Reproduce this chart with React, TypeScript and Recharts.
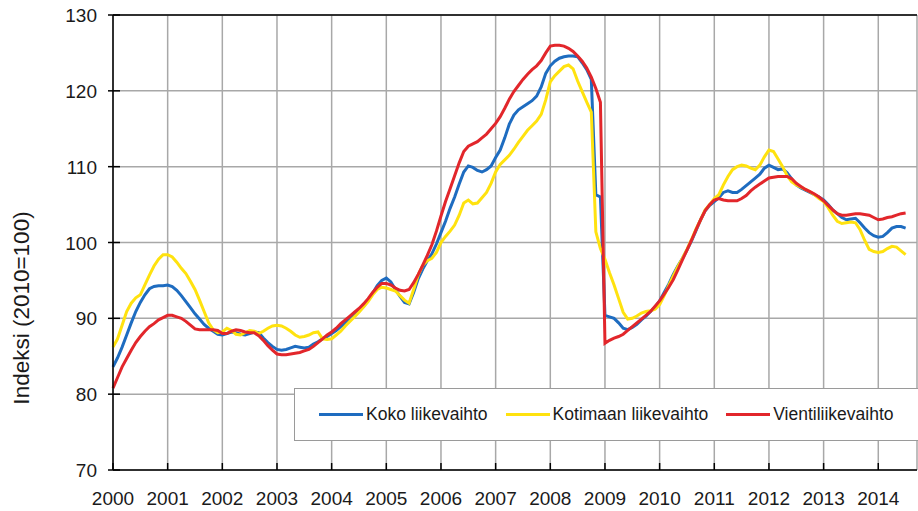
import { LineChart, Line, XAxis, YAxis, CartesianGrid, ReferenceLine } from 'recharts'

const yearLabels = ['2000', '2001', '2002', '2003', '2004', '2005', '2006', '2007', '2008', '2009', '2010', '2011', '2012', '2013', '2014']
const yTicks = [70, 80, 90, 100, 110, 120, 130]

// monthly trend values, Jan 2000 .. Jul 2014
const koko = [
  83.6, 84.8, 86.2, 87.8, 89.4, 90.9, 92.1, 93.1, 93.9, 94.2, 94.3, 94.3,
  94.4, 94.2, 93.7, 93.0, 92.2, 91.4, 90.6, 89.9, 89.2, 88.7, 88.3, 87.9,
  87.8, 88.0, 88.2, 88.1, 87.9, 87.8, 88.0, 88.2, 88.1, 87.4, 86.8, 86.3,
  85.9, 85.8, 85.9, 86.1, 86.3, 86.2, 86.1, 86.2, 86.6, 86.9, 87.3, 87.6,
  88.0, 88.4, 88.9, 89.4, 90.0, 90.5, 91.0, 91.6, 92.4, 93.3, 94.3, 95.0,
  95.3, 94.8, 93.8, 92.9, 92.1, 91.9, 93.4, 95.2, 96.5, 97.6, 98.5, 99.8,
  101.3, 102.8, 104.5, 106.0, 107.7, 109.3, 110.1, 109.9, 109.5, 109.3, 109.6, 110.1,
  111.2, 112.2, 113.8, 115.6, 116.8, 117.5, 117.9, 118.3, 118.7, 119.3, 120.5, 122.3,
  123.3, 123.9, 124.3, 124.5, 124.6, 124.6, 124.5, 123.7, 122.8, 121.5, 106.3, 106.0,
  90.4, 90.2, 90.0, 89.4, 88.7, 88.5, 88.8, 89.2, 89.8, 90.3, 90.9, 91.5,
  92.3, 93.4, 94.5, 95.8, 96.9, 97.9, 99.0, 100.2, 101.6, 103.0, 104.2, 104.9,
  105.4, 105.9, 106.6, 106.8, 106.6, 106.6, 107.0, 107.5, 108.0, 108.5, 109.0, 109.8,
  110.2, 109.9, 109.6, 109.7, 109.2, 108.4, 107.6, 107.2, 106.9, 106.6, 106.3, 106.0,
  105.6, 105.0, 104.3, 103.8, 103.3, 103.0, 103.1, 103.2, 102.6, 101.9, 101.3, 100.9,
  100.7, 100.8, 101.3, 101.9, 102.1, 102.1, 101.9,
]

const kotimaan = [
  86.2, 87.3, 89.1, 90.9, 92.0, 92.7, 93.1, 94.4, 95.7, 96.9, 97.8, 98.4,
  98.4, 98.1, 97.4, 96.6, 95.9, 94.9, 93.8, 92.4, 90.9, 89.4, 88.5, 88.1,
  88.2, 88.7, 88.4, 87.9, 87.8, 88.1, 88.4, 88.3, 88.0, 88.3, 88.7, 89.0,
  89.1, 89.0, 88.7, 88.3, 87.8, 87.5, 87.6, 87.8, 88.1, 88.2, 87.3, 87.2,
  87.3, 87.8, 88.3, 89.0, 89.6, 90.2, 90.8, 91.5, 92.2, 93.1, 93.8, 94.1,
  94.0, 93.8, 93.6, 93.0, 92.4, 92.0, 93.8, 95.7, 97.0, 97.6, 97.9, 98.7,
  100.0, 100.8, 101.5, 102.3, 103.6, 105.2, 105.6, 105.1, 105.2, 105.9, 106.6, 107.8,
  109.3, 110.3, 110.9, 111.5, 112.3, 113.2, 114.0, 114.8, 115.4, 116.0, 116.9, 118.8,
  121.2, 122.0, 122.6, 123.2, 123.4, 122.9, 121.3, 119.9, 118.5, 117.2, 101.4, 99.2,
  97.8, 96.0, 94.4, 92.6, 90.8, 89.9, 90.0, 90.3, 90.7, 90.9, 91.0, 91.2,
  91.8, 93.0, 94.3, 95.6, 96.8, 97.9, 99.1, 100.4, 101.8, 103.0, 104.3, 105.0,
  105.8, 106.3, 107.6, 108.7, 109.6, 110.0, 110.2, 110.1, 109.8, 109.6, 110.2, 111.3,
  112.2, 112.0, 111.0, 110.0, 108.8, 108.0, 107.6, 107.3, 107.0, 106.7, 106.3, 105.8,
  105.4, 104.6, 103.6, 102.8, 102.5, 102.6, 102.7, 102.6, 101.7, 100.3, 99.1, 98.8,
  98.7, 98.8, 99.2, 99.5, 99.4, 98.9, 98.4,
]

const vienti = [
  80.8, 82.2, 83.6, 84.7, 85.8, 86.8, 87.6, 88.3, 88.9, 89.3, 89.8, 90.1,
  90.4, 90.4, 90.2, 90.0, 89.6, 89.1, 88.6, 88.5, 88.5, 88.5, 88.5, 88.4,
  88.0, 88.0, 88.3, 88.5, 88.4, 88.2, 88.1, 88.1, 87.7, 87.1, 86.4, 85.8,
  85.3, 85.2, 85.2, 85.3, 85.4, 85.5, 85.7, 85.9, 86.3, 86.8, 87.3, 87.8,
  88.2, 88.7, 89.3, 89.8, 90.3, 90.8, 91.3, 91.9, 92.6, 93.4, 94.1, 94.6,
  94.6, 94.4, 94.0, 93.7, 93.6, 93.8, 94.7, 95.8, 97.0, 98.3, 99.7, 101.5,
  103.5, 105.4, 107.1, 108.8, 110.5, 112.0, 112.7, 113.0, 113.3, 113.8, 114.3, 115.0,
  115.7, 116.6, 117.7, 118.9, 119.9, 120.7, 121.5, 122.2, 122.8, 123.3, 124.0, 125.0,
  125.9, 126.0, 126.0, 125.9, 125.6, 125.2, 124.6, 123.9, 123.0, 121.8, 120.3, 118.5,
  86.7, 87.1, 87.4, 87.6, 87.9, 88.4, 88.9, 89.4, 89.9, 90.4, 90.9, 91.6,
  92.3, 93.2, 94.1, 95.1, 96.4, 97.7, 99.0, 100.3, 101.7, 103.0, 104.2, 105.0,
  105.6, 105.8, 105.6, 105.5, 105.5, 105.5, 105.8, 106.2, 106.8, 107.3, 107.7, 108.1,
  108.5, 108.6, 108.7, 108.7, 108.7, 108.4, 107.8, 107.4, 107.0, 106.7, 106.4, 106.0,
  105.5, 104.9, 104.3, 103.8, 103.6, 103.6, 103.7, 103.8, 103.8, 103.7, 103.6, 103.3,
  103.0, 103.1, 103.3, 103.4, 103.6, 103.8, 103.9,
]

const series = [
  { key: 'koko', name: 'Koko liikevaihto', color: '#1e6cc0' },
  { key: 'kotimaan', name: 'Kotimaan liikevaihto', color: '#ffe20f' },
  { key: 'vienti', name: 'Vientiliikevaihto', color: '#e2262b' },
]

const data = koko.map((v, i) => ({ month: i, koko: v, kotimaan: kotimaan[i], vienti: vienti[i] }))
const yearTicks = yearLabels.map((_, i) => i * 12)

const font = '"Liberation Sans", Arial, sans-serif'
const ink = '#1a1a1a'

function XTick({ x, y, payload }: any) {
  return (
    <g>
      <line x1={x} x2={x} y1={y} y2={y - 7} stroke="#000" strokeWidth={1.5} />
      <text x={x} y={y + 35} textAnchor="middle" fontSize={19} fill={ink} fontFamily={font}>
        {yearLabels[Math.round(payload.value / 12)]}
      </text>
    </g>
  )
}

function YTick({ x, y, payload }: any) {
  return (
    <g>
      <line x1={x - 5} x2={x + 7} y1={y} y2={y} stroke="#000" strokeWidth={1.5} />
      <text x={x - 16} y={y + 7} textAnchor="end" fontSize={19} fill={ink} fontFamily={font}>
        {payload.value}
      </text>
    </g>
  )
}

function YLabel() {
  return (
    <text transform="translate(29,308) rotate(-90)" textAnchor="middle" fontSize={22.5} fill={ink} fontFamily={font}>
      Indeksi (2010=100)
    </text>
  )
}

function LegendBox() {
  return (
    <div
      style={{
        position: 'absolute', left: 294, top: 388, width: 611, height: 51,
        border: '1.5px solid #9a9a9a', background: '#fff', display: 'flex', alignItems: 'center',
        paddingLeft: 24, boxSizing: 'content-box', fontFamily: font, fontSize: 17.5, color: ink,
      }}
    >
      {series.map((s) => (
        <div key={s.key} style={{ display: 'flex', alignItems: 'center', marginRight: 18 }}>
          <div style={{ width: 44, height: 3, background: s.color, marginRight: 3 }} />
          <span>{s.name}</span>
        </div>
      ))}
    </div>
  )
}

export default function App() {
  return (
    <div style={{ position: 'absolute', left: 0, top: 0, width: 918, height: 511, background: '#fff' }}>
      <LineChart width={918} height={511} data={data} margin={{ top: 15, right: 1, left: 0, bottom: 0 }}>
        <CartesianGrid stroke="#a8a8a8" strokeWidth={1.5} />
        <XAxis
          dataKey="month"
          type="number"
          domain={[0, 176.5]}
          ticks={yearTicks}
          interval={0}
          height={41}
          tickSize={0}
          tickMargin={0}
          tickLine={false}
          axisLine={{ stroke: '#000', strokeWidth: 1.5 }}
          tick={<XTick />}
        />
        <YAxis
          width={113}
          domain={[70, 130]}
          ticks={yTicks}
          interval={0}
          tickSize={0}
          tickMargin={0}
          tickLine={false}
          axisLine={{ stroke: '#000', strokeWidth: 1.5 }}
          tick={<YTick />}
          label={<YLabel />}
        />
        <ReferenceLine y={130} stroke="#000" strokeWidth={1.5} />
        {series.map((s) => (
          <Line
            key={s.key}
            dataKey={s.key}
            name={s.name}
            type="linear"
            stroke={s.color}
            strokeWidth={3}
            dot={false}
            isAnimationActive={false}
          />
        ))}
      </LineChart>
      <LegendBox />
    </div>
  )
}
